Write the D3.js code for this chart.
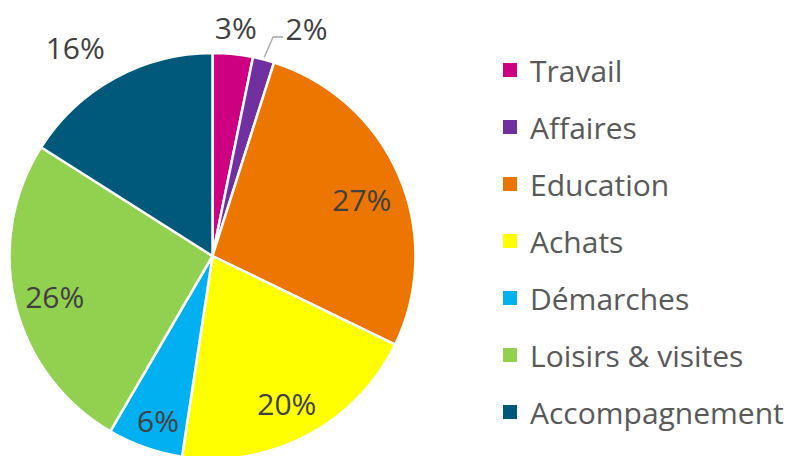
<!DOCTYPE html>
<html><head><meta charset="utf-8">
<script src="https://cdn.jsdelivr.net/npm/d3@7"></script>
<style>body{margin:0;background:#fff}svg{display:block}</style>
</head><body>
<svg id="c" width="791" height="456"></svg>
<script>
const categories = ["Travail","Affaires","Education","Achats","Démarches","Loisirs & visites","Accompagnement"];
const values = [3.2, 1.7, 27.3, 20.2, 6.0, 25.6, 16.0];
const colors = ["#CC0080","#7030A0","#ED7600","#FFFF00","#00B0F0","#92D050","#00587A"];

const svg = d3.select("#c");
const cx = 212.5, cy = 256, R = 203;
const font = "'Open Sans', sans-serif";

const pie = d3.pie().sort(null).value(d => d)(values);
const arc = d3.arc().innerRadius(0).outerRadius(R);
const g = svg.append("g").attr("transform", `translate(${cx},${cy})`);
g.selectAll("path").data(pie).join("path")
  .attr("d", arc).attr("fill", (d,i) => colors[i])
  .attr("stroke", "#fff").attr("stroke-width", 2.5).attr("stroke-linejoin","round");

// label layout: radius factor per slice plus pixel nudge
const labelR = [1.14, null, 0.79, 0.83, 0.88, 0.80, 1.23];
const nudge = [[0,2],[0,0],[2,7],[-4,-2],[5,-4],[0,2],[-17,10]];
const pct = values.map(v => Math.round(v) + "%");
pie.forEach((d, i) => {
  const a = (d.startAngle + d.endAngle) / 2;
  let x, y;
  if (labelR[i] === null) {
    const ex = Math.sin(a) * (R + 2), ey = -Math.cos(a) * (R + 2);
    x = 94; y = -228;
    g.append("polyline")
      .attr("points", `${ex},${ey} ${ex+9},${-219} ${ex+19},${-219}`)
      .attr("fill", "none").attr("stroke", "#a6a6a6").attr("stroke-width", 1.3);
  } else {
    x = Math.sin(a) * R * labelR[i] + nudge[i][0];
    y = -Math.cos(a) * R * labelR[i] + nudge[i][1];
  }
  g.append("text").attr("x", x).attr("y", y)
    .attr("text-anchor", "middle").attr("dominant-baseline", "central")
    .attr("font-family", font).attr("font-size", 30).attr("fill", "#404040")
    .text(pct[i]);
});

// legend
const lg = svg.append("g").attr("transform", "translate(503,70)");
categories.forEach((c, i) => {
  const row = lg.append("g").attr("transform", `translate(0,${i*57})`);
  row.append("rect").attr("x", 0).attr("y", -7).attr("width", 14).attr("height", 14).attr("fill", colors[i]);
  row.append("text").attr("x", 27).attr("y", 0).attr("dominant-baseline", "central")
    .attr("font-family", font).attr("font-size", 30).attr("fill", "#595959").text(c);
});
</script>
</body></html>
